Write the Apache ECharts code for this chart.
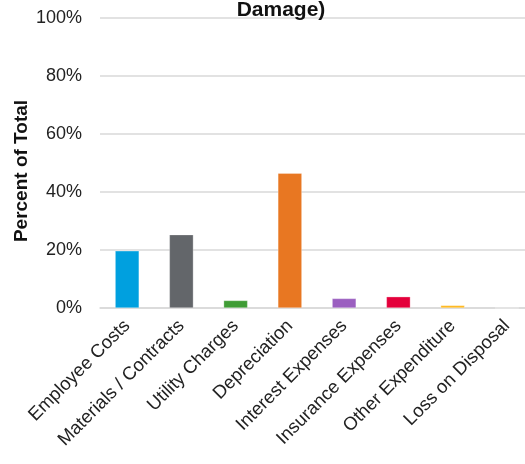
<!DOCTYPE html>
<html>
<head>
<meta charset="utf-8">
<script src="https://cdn.jsdelivr.net/npm/echarts@6/dist/echarts.min.js"></script>
<style>html,body{margin:0;padding:0;background:#fff}#c{width:525px;height:464px}</style>
</head>
<body>
<div id="c"></div>
<script>
const categories = ["Employee Costs","Materials / Contracts","Utility Charges","Depreciation","Interest Expenses","Insurance Expenses","Other Expenditure","Loss on Disposal"];
const values = [19.7, 25.3, 2.6, 46.5, 3.3, 3.9, 0.9, 0];
const barColors = ["#00a0df","#63666a","#3f9c35","#e87722","#9b5fc0","#e4003b","#ffb81c","#a0a0a0"];
const yTicks = [0, 20, 40, 60, 80, 100];
const titleText = "Damage)";
const yAxisTitle = "Percent of Total";

const chart = echarts.init(document.getElementById('c'), null, {renderer:'canvas'});
chart.setOption({
  animation:false,
  backgroundColor:'#ffffff',
  title:{text:titleText,left:276,top:-5,textAlign:'center',
    textStyle:{fontFamily:'Liberation Sans',fontSize:21,fontWeight:'bold',color:'#111'}},
  graphic:[{type:'text',x:22,y:171,rotation:Math.PI/2,
    style:{text:yAxisTitle,align:'center',verticalAlign:'middle',
      font:'bold 19px "Liberation Sans"',fill:'#111'}}],
  grid:{left:100,right:-9,top:18,bottom:156,containLabel:false,outerBoundsMode:'none'},
  xAxis:{type:'category',data:categories,
    axisLine:{show:true,lineStyle:{color:'#d9d9d9',width:1.5}},
    axisTick:{show:false},
    axisLabel:{rotate:45,interval:0,margin:15,fontFamily:'Liberation Sans',fontSize:18.5,color:'#222'}},
  yAxis:{type:'value',min:yTicks[0],max:yTicks[yTicks.length-1],interval:20,
    axisLine:{show:false},axisTick:{show:false},
    splitLine:{lineStyle:{color:'#d9d9d9',width:1.5}},
    axisLabel:{formatter:v=>v+'%',margin:18,fontFamily:'Liberation Sans',fontSize:18,color:'#222'}},
  series:[{type:'bar',barWidth:24,
    data:values.map((v,i)=>({value:v,itemStyle:{color:barColors[i]}})),
    itemStyle:{borderColor:'rgba(255,255,255,0.6)',borderWidth:0.5}}]
});
</script>
</body>
</html>
